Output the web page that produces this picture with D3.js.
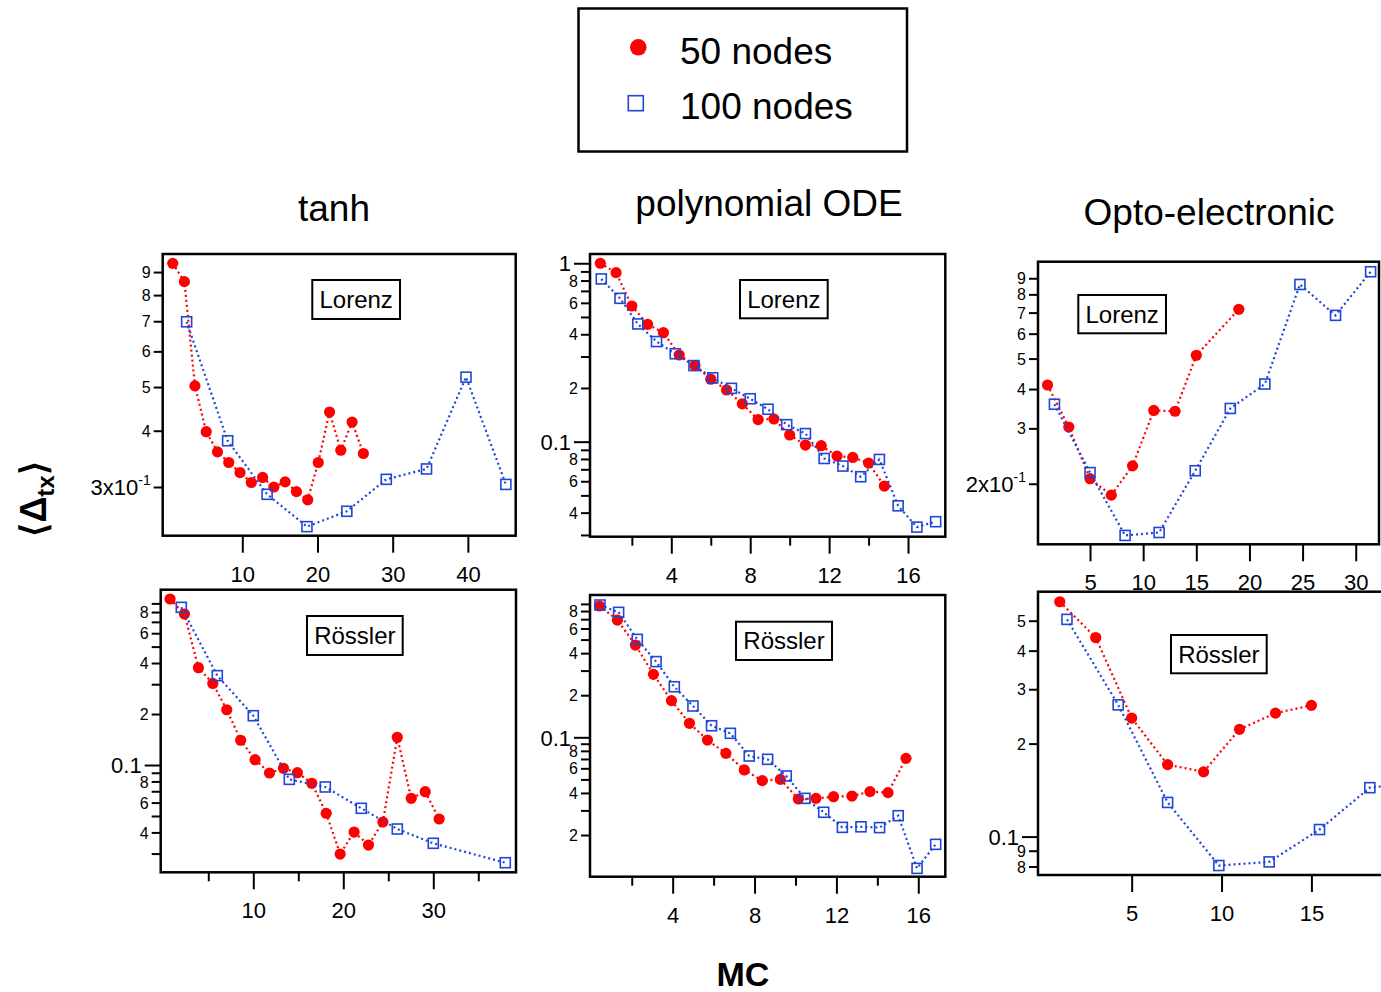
<!DOCTYPE html>
<html>
<head>
<meta charset="utf-8">
<script src="https://cdn.jsdelivr.net/npm/d3@7"></script>
<style>
  body { margin: 0; background: #fff; }
  svg text { font-family: "Liberation Sans", Arial, Helvetica, sans-serif; }
</style>
</head>
<body>
<div id="chart"></div>
<script>
// ---- data (x = MC, y = <Delta_tx>) ----
var tanhLorenzX50 = [0.75, 2.3, 3.7, 5.2, 6.7, 8.2, 9.7, 11.2, 12.7, 14.2, 15.7, 17.2, 18.7, 20.1, 21.6, 23.1, 24.6, 26.1];
var tanhLorenzY50 = [0.941, 0.857, 0.503, 0.398, 0.359, 0.340, 0.323, 0.307, 0.315, 0.300, 0.308, 0.293, 0.281, 0.340, 0.440, 0.362, 0.418, 0.356];
var tanhLorenzX100 = [2.6, 8.05, 13.3, 18.6, 23.9, 29.15, 34.5, 39.75, 45.05];
var tanhLorenzY100 = [0.698, 0.380, 0.289, 0.245, 0.265, 0.312, 0.329, 0.526, 0.304];

var polyLorenzX50 = [0.4, 1.2, 2.0, 2.8, 3.6, 4.4, 5.2, 6.0, 6.8, 7.6, 8.4, 9.2, 10.0, 10.8, 11.6, 12.4, 13.2, 14.0, 14.8];
var polyLorenzY50 = [1.0, 0.886, 0.576, 0.455, 0.408, 0.306, 0.267, 0.224, 0.195, 0.163, 0.133, 0.134, 0.109, 0.0957, 0.0949, 0.0830, 0.0816, 0.0759, 0.0564];
var polyLorenzX100 = [0.45, 1.4, 2.3, 3.25, 4.2, 5.15, 6.1, 7.05, 8.0, 8.9, 9.85, 10.8, 11.75, 12.7, 13.6, 14.55, 15.5, 16.45, 17.4];
var polyLorenzY100 = [0.817, 0.636, 0.457, 0.364, 0.311, 0.267, 0.228, 0.199, 0.174, 0.152, 0.1245, 0.111, 0.0805, 0.0730, 0.0636, 0.0795, 0.0437, 0.0332, 0.0356];

var optoLorenzX50 = [1, 3, 5, 7, 9, 11, 13, 15, 19];
var optoLorenzY50 = [0.412, 0.303, 0.2075, 0.184, 0.228, 0.342, 0.340, 0.512, 0.717];
var optoLorenzX100 = [1.65, 5.0, 8.3, 11.5, 14.9, 18.2, 21.45, 24.75, 28.1, 31.4];
var optoLorenzY100 = [0.358, 0.217, 0.137, 0.140, 0.220, 0.347, 0.415, 0.860, 0.686, 0.944];

var tanhRosslerX50 = [0.75, 2.35, 3.9, 5.5, 7.05, 8.6, 10.2, 11.8, 13.35, 14.9, 16.5, 18.1, 19.65, 21.2, 22.8, 24.4, 26.0, 27.55, 29.1, 30.65];
var tanhRosslerY50 = [0.955, 0.779, 0.3755, 0.303, 0.212, 0.140, 0.1075, 0.0897, 0.0956, 0.0901, 0.0780, 0.0519, 0.0298, 0.0402, 0.0337, 0.0461, 0.1457, 0.0636, 0.0696, 0.0480];
var tanhRosslerX100 = [2, 6, 10, 14, 18, 22, 26, 30, 38];
var tanhRosslerY100 = [0.853, 0.337, 0.1955, 0.0823, 0.0742, 0.0555, 0.0419, 0.0345, 0.0265];

var polyRosslerX50 = [0.42, 1.3, 2.18, 3.06, 3.94, 4.82, 5.7, 6.6, 7.5, 8.38, 9.26, 10.14, 11.0, 11.86, 12.76, 13.64, 14.52, 15.4];
var polyRosslerY50 = [0.869, 0.690, 0.457, 0.282, 0.183, 0.126, 0.0956, 0.0768, 0.0584, 0.0490, 0.0500, 0.0362, 0.0366, 0.0376, 0.0380, 0.0409, 0.0402, 0.0707];
var polyRosslerX100 = [0.45, 1.36, 2.27, 3.19, 4.08, 4.99, 5.9, 6.82, 7.74, 8.64, 9.55, 10.46, 11.38, 12.29, 13.2, 14.11, 15.02, 15.94, 16.85];
var polyRosslerY100 = [0.884, 0.783, 0.502, 0.348, 0.230, 0.1675, 0.121, 0.1068, 0.0735, 0.0696, 0.0529, 0.0366, 0.0291, 0.0227, 0.0229, 0.0226, 0.0275, 0.01155, 0.01716];

var optoRosslerX50 = [1, 3, 5, 7, 9, 11, 13, 15];
var optoRosslerY50 = [0.576, 0.441, 0.242, 0.171, 0.162, 0.2225, 0.251, 0.266];
var optoRosslerX100 = [1.4, 4.25, 7.0, 9.85, 12.65, 15.45, 18.25, 21.0];
var optoRosslerY100 = [0.505, 0.267, 0.129, 0.0806, 0.0828, 0.1054, 0.144, 0.15];

// ---- tick values / labels ----
var ticksA = [0.3, 0.4, 0.5, 0.6, 0.7, 0.8, 0.9];
var labelsA = ["3x10^-1", "4", "5", "6", "7", "8", "9"];
var ticksB = [1, 0.9, 0.8, 0.7, 0.6, 0.5, 0.4, 0.3, 0.2, 0.1, 0.09, 0.08, 0.07, 0.06, 0.05, 0.04, 0.03];
var labelsB = ["1", "", "8", "", "6", "", "4", "", "2", "0.1", "", "8", "", "6", "", "4", ""];
var ticksC = [0.2, 0.3, 0.4, 0.5, 0.6, 0.7, 0.8, 0.9];
var labelsC = ["2x10^-1", "3", "4", "5", "6", "7", "8", "9"];
var ticksD = [0.9, 0.8, 0.7, 0.6, 0.5, 0.4, 0.3, 0.2, 0.1, 0.09, 0.08, 0.07, 0.06, 0.05, 0.04, 0.03];
var labelsD = ["", "8", "", "6", "", "4", "", "2", "0.1", "", "8", "", "6", "", "4", ""];
var ticksE = [0.9, 0.8, 0.7, 0.6, 0.5, 0.4, 0.3, 0.2, 0.1, 0.09, 0.08, 0.07, 0.06, 0.05, 0.04, 0.03, 0.02];
var labelsE = ["", "8", "", "6", "", "4", "", "2", "0.1", "", "8", "", "6", "", "4", "", "2"];
var ticksF = [0.5, 0.4, 0.3, 0.2, 0.1, 0.09, 0.08];
var labelsF = ["5", "4", "3", "2", "0.1", "9", "8"];

var RED = "#ff0000", BLUE = "#1f46d8";

var panels = [
  { title: "tanh", tx: 334, ty: 221, tag: "Lorenz", tagBox: [312.3, 280, 400, 319],
    box: [162.7, 254, 515.7, 535.7], xDomain: [-0.585, 46.36], yDomain: [0.2339, 0.987],
    xMajor: [10, 20, 30, 40], xMinor: [], yTicks: ticksA, yLabels: labelsA,
    x50: tanhLorenzX50, y50: tanhLorenzY50, x100: tanhLorenzX100, y100: tanhLorenzY100 },
  { title: "polynomial ODE", tx: 769, ty: 216, tag: "Lorenz", tagBox: [740, 280, 827.7, 318.3],
    box: [590, 254, 945.3, 536.7], xDomain: [-0.122, 17.89], yDomain: [0.02933, 1.127],
    xMajor: [4, 8, 12, 16], xMinor: [2, 6, 10, 14], yTicks: ticksB, yLabels: labelsB,
    x50: polyLorenzX50, y50: polyLorenzY50, x100: polyLorenzX100, y100: polyLorenzY100 },
  { title: "Opto-electronic", tx: 1209, ty: 225, tag: "Lorenz", tagBox: [1078.3, 295, 1166, 333.3],
    box: [1038, 261.7, 1379, 544.3], xDomain: [0.104, 32.19], yDomain: [0.1284, 1.016],
    xMajor: [5, 10, 15, 20, 25, 30], xMinor: [], yTicks: ticksC, yLabels: labelsC,
    x50: optoLorenzX50, y50: optoLorenzY50, x100: optoLorenzX100, y100: optoLorenzY100 },
  { tag: "Rössler", tagBox: [307, 616, 402.7, 655],
    box: [160.7, 589.7, 516, 872.3], xDomain: [-0.289, 39.19], yDomain: [0.02326, 1.084],
    xMajor: [10, 20, 30], xMinor: [5, 15, 25, 35], yTicks: ticksD, yLabels: labelsD,
    x50: tanhRosslerX50, y50: tanhRosslerY50, x100: tanhRosslerX100, y100: tanhRosslerY100 },
  { tag: "Rössler", tagBox: [736, 621.7, 832, 660],
    box: [590, 595, 945.3, 876.7], xDomain: [-0.039, 17.32], yDomain: [0.01007, 1.042],
    xMajor: [4, 8, 12, 16], xMinor: [2, 6, 10, 14], yTicks: ticksE, yLabels: labelsE,
    x50: polyRosslerX50, y50: polyRosslerY50, x100: polyRosslerX100, y100: polyRosslerY100 },
  { tag: "Rössler", tagBox: [1171, 635, 1266.7, 673.3],
    box: [1038, 591.7, 1395, 875], xDomain: [-0.211, 19.65], yDomain: [0.0751, 0.6207],
    xMajor: [5, 10, 15], xMinor: [], yTicks: ticksF, yLabels: labelsF,
    x50: optoRosslerX50, y50: optoRosslerY50, x100: optoRosslerX100, y100: optoRosslerY100 }
];

var W = 1381, H = 992;
var svg = d3.select("#chart").append("svg")
    .attr("width", W)
    .attr("height", H);

function isBig(s) { return s === "0.1" || s === "1" || s.indexOf("x10") >= 0; }

panels.forEach(function(p) {
    var b = p.box;
    var x = d3.scaleLinear().domain(p.xDomain).range([b[0], b[2]]);
    var y = d3.scaleLog().domain(p.yDomain).range([b[3], b[1]]);
    var g = svg.append("g");

    if (p.title) {
        g.append("text").attr("x", p.tx).attr("y", p.ty)
            .attr("text-anchor", "middle").attr("font-size", 37).text(p.title);
    }

    // y axis: decade ticks longer, the rest short
    var lab = {};
    p.yTicks.forEach(function(v, i) { lab[v] = p.yLabels[i]; });
    var longT = p.yTicks.filter(function(v) { return lab[v] === "0.1" || lab[v] === "1"; });
    var shortT = p.yTicks.filter(function(v) { return longT.indexOf(v) < 0; });
    [[longT, 16], [shortT, 9]].forEach(function(set) {
        var ax = g.append("g").attr("transform", "translate(" + b[0] + ",0)")
            .call(d3.axisLeft(y).tickValues(set[0]).tickSize(set[1]).tickPadding(3)
                .tickFormat(function(d) { return lab[d]; }));
        ax.select(".domain").remove();
        ax.selectAll("line").attr("stroke", "#000").attr("stroke-width", 2);
        ax.selectAll("text").each(function(d) {
            var t = d3.select(this), s = lab[d];
            t.attr("fill", "#000").attr("font-family", null)
                .attr("font-size", isBig(s) ? 22 : 16).attr("dy", "0.35em");
            if (s.indexOf("^") >= 0) {
                var parts = s.split("^");
                t.text(parts[0]);
                t.append("tspan").attr("font-size", 14).attr("dy", "-0.7em").text(parts[1]);
            }
        });
    });

    // x axis
    [[p.xMajor, 17], [p.xMinor, 9]].forEach(function(set, k) {
        var ax = g.append("g").attr("transform", "translate(0," + b[3] + ")")
            .call(d3.axisBottom(x).tickValues(set[0]).tickSize(set[1]));
        ax.select(".domain").remove();
        ax.selectAll("line").attr("stroke", "#000").attr("stroke-width", 2);
        if (k === 0) {
            ax.selectAll("text").attr("y", 46).attr("dy", 0).attr("fill", "#000")
                .attr("font-family", null).attr("font-size", 22);
        } else {
            ax.selectAll("text").remove();
        }
    });

    // frame
    g.append("rect").attr("x", b[0]).attr("y", b[1])
        .attr("width", b[2] - b[0]).attr("height", b[3] - b[1])
        .attr("fill", "none").attr("stroke", "#000").attr("stroke-width", 2.5);

    // system tag
    var tb = p.tagBox;
    g.append("rect").attr("x", tb[0]).attr("y", tb[1])
        .attr("width", tb[2] - tb[0]).attr("height", tb[3] - tb[1])
        .attr("fill", "#fff").attr("stroke", "#000").attr("stroke-width", 2);
    g.append("text").attr("x", (tb[0] + tb[2]) / 2).attr("y", (tb[1] + tb[3]) / 2 + 8.5)
        .attr("text-anchor", "middle").attr("font-size", 24).text(p.tag);

    var line = d3.line().x(function(d) { return x(d[0]); }).y(function(d) { return y(d[1]); });
    var d50 = p.x50.map(function(v, i) { return [v, p.y50[i]]; });
    var d100 = p.x100.map(function(v, i) { return [v, p.y100[i]]; });

    g.append("path").datum(d50).attr("d", line)
        .attr("fill", "none").attr("stroke", RED).attr("stroke-width", 2.2)
        .attr("stroke-dasharray", "2,3");
    g.append("g").selectAll("circle").data(d50).join("circle")
        .attr("cx", function(d) { return x(d[0]); })
        .attr("cy", function(d) { return y(d[1]); })
        .attr("r", 5.6).attr("fill", RED);

    g.append("path").datum(d100).attr("d", line)
        .attr("fill", "none").attr("stroke", BLUE).attr("stroke-width", 2.2)
        .attr("stroke-dasharray", "2,3");
    g.append("g").selectAll("rect").data(d100).join("rect")
        .attr("x", function(d) { return x(d[0]) - 5; })
        .attr("y", function(d) { return y(d[1]) - 5; })
        .attr("width", 10).attr("height", 10)
        .attr("fill", "none").attr("stroke", BLUE).attr("stroke-width", 1.6);
});

// legend
var leg = svg.append("g");
leg.append("rect").attr("x", 578.5).attr("y", 8.5).attr("width", 328.5).attr("height", 143)
    .attr("fill", "none").attr("stroke", "#000").attr("stroke-width", 2.5);
leg.append("circle").attr("cx", 638.3).attr("cy", 47.3).attr("r", 8.3).attr("fill", RED);
leg.append("rect").attr("x", 628.3).attr("y", 95.7).attr("width", 15).attr("height", 15)
    .attr("fill", "none").attr("stroke", BLUE).attr("stroke-width", 1.6);
leg.append("text").attr("x", 680).attr("y", 64).attr("font-size", 37).text("50 nodes");
leg.append("text").attr("x", 680).attr("y", 119).attr("font-size", 37).text("100 nodes");

// axis titles
svg.append("text").attr("x", 743).attr("y", 986).attr("text-anchor", "middle")
    .attr("font-size", 34).attr("font-weight", "bold").text("MC");

var yl = svg.append("text").attr("transform", "translate(46,499) rotate(-90)")
    .attr("text-anchor", "middle").attr("font-size", 36).attr("font-weight", "bold");
yl.append("tspan").text("\u27E8\u0394");
yl.append("tspan").attr("font-size", 24).attr("dy", 8).text("tx");
yl.append("tspan").attr("dy", -8).text("\u27E9");
</script>
</body>
</html>
